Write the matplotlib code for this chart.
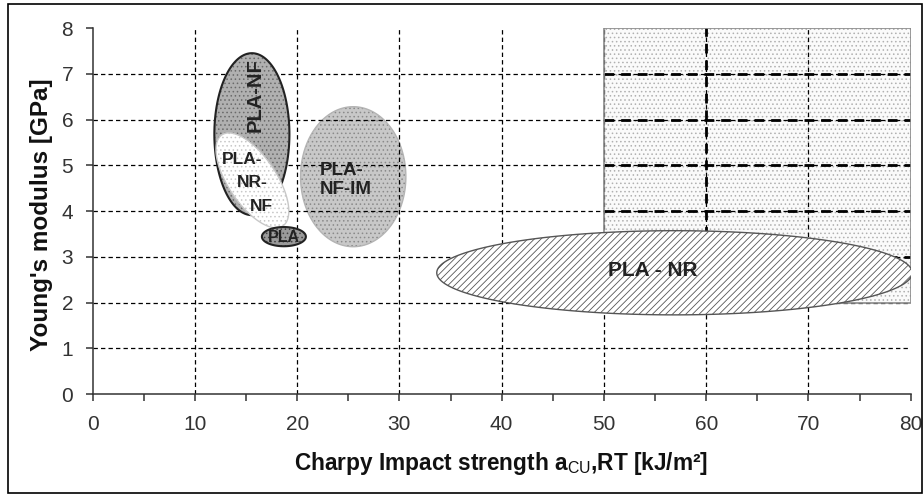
import numpy as np
import matplotlib
matplotlib.use("Agg")
import matplotlib.pyplot as plt
from matplotlib.patches import Polygon, Rectangle

plt.rcParams['font.family'] = ['Liberation Sans', 'DejaVu Sans']
plt.rcParams['mathtext.fontset'] = 'custom'
plt.rcParams['mathtext.rm'] = 'Liberation Sans'
plt.rcParams['mathtext.it'] = 'Liberation Sans:italic'
plt.rcParams['mathtext.bf'] = 'Liberation Sans:bold'
plt.rcParams['hatch.linewidth'] = 0.6

# ---- data ----
x_ticks = [0, 10, 20, 30, 40, 50, 60, 70, 80]
y_ticks = [0, 1, 2, 3, 4, 5, 6, 7, 8]

# property regions (ellipses): centre and two conjugate semi-axis vectors (data units)
region_names = ["PLA - NR", "PLA-NF-IM", "PLA-NF", "PLA-NR-NF", "PLA"]
center_x = [56.9, 25.48, 15.57, 15.62, 18.7]
center_y = [2.65, 4.75, 5.68, 4.67, 3.44]
axis1_x = [23.25, 5.15, 3.67, 2.98, 2.15]
axis1_y = [0.0, 0.0, 0.0, -0.995, 0.0]
axis2_x = [0.0, 0.0, 0.0, 1.95, 0.0]
axis2_y = [0.92, 1.53, 1.77, 0.293, 0.21]

# target rectangle
target_x = [50, 80]
target_y = [2, 8]

# labels
label_text = ["PLA - NR", "PLA-\nNF-IM", "PLA-NF", "PLA-", "NR-", "NF", "PLA"]
label_x = [54.8, 22.2, 15.9, 14.6, 15.6, 16.55, 18.7]
label_y = [2.71, 4.68, 6.54, 5.12, 4.62, 4.1, 3.43]

# ---- styles ----
styles = {
    "PLA - NR":  dict(face="white", hatch="/////", hcol="#555555", edge="#555555", lw=1.0, z=2.0),
    "PLA-NF-IM": dict(face="#c8c8c8", hatch="....", hcol="#8a8a8a", edge="#b4b4b4", lw=1.0, z=0.8),
    "PLA-NF":    dict(face="#b0b0b0", hatch="....", hcol="#6a6a6a", edge="#222222", lw=1.5, z=2.1),
    "PLA-NR-NF": dict(face="white", hatch="....", hcol="#c8c8c8", edge="#c8c8c8", lw=1.0, z=2.2),
    "PLA":       dict(face="#9a9a9a", hatch="....", hcol="#444444", edge="#222222", lw=1.5, z=2.3),
}
label_size = [15, 13.5, 14.5, 12.5, 12.5, 12.5, 11.5]

fig = plt.figure(figsize=(9.24, 4.95), dpi=100)
ax = fig.add_axes([0.1003, 0.2040, 0.8853, 0.7394])
ax.set_xlim(x_ticks[0], x_ticks[-1])
ax.set_ylim(y_ticks[0], y_ticks[-1])

# target rectangle
rx0, rx1 = target_x
ry0, ry1 = target_y
ax.add_patch(Rectangle((rx0, ry0), rx1 - rx0, ry1 - ry0, facecolor="#fafafa",
                       edgecolor="#b0b0b0", hatch="....", lw=0, zorder=0.5))
ax.add_patch(Rectangle((rx0, ry0), rx1 - rx0, ry1 - ry0, facecolor="none",
                       edgecolor="#8a8a8a", lw=1.2, zorder=1.3))

# grid
dash = (0, (3.5, 2.5))
for xv in x_ticks[1:-1]:
    ax.plot([xv, xv], [y_ticks[0], y_ticks[-1]], color="black", lw=0.9, ls=dash, zorder=1)
for yv in y_ticks[1:-1]:
    ax.plot([x_ticks[0], x_ticks[-1]], [yv, yv], color="black", lw=0.9, ls=dash, zorder=1)
# heavier grid inside the rectangle
for yv in y_ticks:
    if ry0 < yv < ry1:
        ax.plot([rx0, rx1], [yv, yv], color="black", lw=2.0, ls=dash, zorder=1.1)
ax.plot([60, 60], [ry0, ry1], color="black", lw=2.0, ls=dash, zorder=1.1)

# ellipses
t = np.linspace(0, 2 * np.pi, 200)
for i, name in enumerate(region_names):
    st = styles[name]
    px = center_x[i] + axis1_x[i] * np.cos(t) + axis2_x[i] * np.sin(t)
    py = center_y[i] + axis1_y[i] * np.cos(t) + axis2_y[i] * np.sin(t)
    pts = np.column_stack([px, py])
    ax.add_patch(Polygon(pts, closed=True, facecolor=st["face"], edgecolor=st["hcol"],
                         hatch=st["hatch"], lw=0, zorder=st["z"]))
    ax.add_patch(Polygon(pts, closed=True, facecolor="none", edgecolor=st["edge"],
                         lw=st["lw"], zorder=st["z"] + 0.01))

for i, txt in enumerate(label_text):
    kw = dict(ha="center", va="center", fontweight="bold", color="#222222",
              fontsize=label_size[i], zorder=5)
    if txt == "PLA-NF":
        kw["rotation"] = 90
    if txt.startswith("PLA-\nNF"):
        kw["ha"] = "left"
        kw["multialignment"] = "left"
        kw["linespacing"] = 1.15
    ax.text(label_x[i], label_y[i], txt, **kw)

# axes styling
for s in ["top", "right"]:
    ax.spines[s].set_visible(False)
for s in ["left", "bottom"]:
    ax.spines[s].set_color("#333333")
    ax.spines[s].set_linewidth(1.1)
ax.set_xticks(x_ticks)
ax.set_yticks(y_ticks)
ax.set_xticks([v + 5 for v in x_ticks[:-1]], minor=True)
ax.tick_params(axis="x", which="both", direction="out", length=5, width=1.1,
               color="#333333", labelsize=15, labelcolor="#333333", pad=10)
ax.tick_params(axis="y", which="both", direction="out", length=5, width=1.1,
               color="#333333", labelsize=15, labelcolor="#333333", pad=9)

ax.set_xlabel(r"Charpy Impact strength a$_{\mathrm{CU}}$,RT [kJ/m²]",
              fontsize=16.3, fontweight="bold", color="#111111", va="center")
ax.xaxis.set_label_coords(0.499, -0.191)
ax.set_ylabel("Young's modulus [GPa]", fontsize=17.5, fontweight="bold",
              color="#111111", va="center")
ax.yaxis.set_label_coords(-0.062, 0.489)

# outer frame
fig.patches.append(Rectangle((8 / 924, 2 / 495), 914 / 924, 489 / 495, transform=fig.transFigure,
                             fill=False, edgecolor="black", lw=1.2))

fig.savefig("out.png", dpi=100)
